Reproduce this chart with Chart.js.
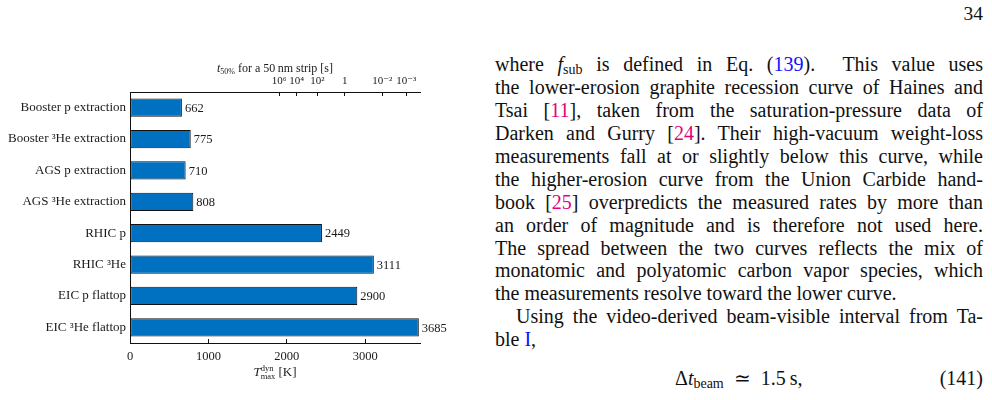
<!DOCTYPE html>
<html>
<head>
<meta charset="utf-8">
<script src="https://cdn.jsdelivr.net/npm/chart.js@4.4.0/dist/chart.umd.min.js"></script>
<style>
  html, body { margin: 0; padding: 0; background: #fff; }
  body { width: 992px; height: 400px; position: relative; overflow: hidden; font-family: "Liberation Serif", serif; color: #111; }
  #chartBox { position: absolute; left: 0; top: 0; width: 460px; height: 400px; }
  .page { position: absolute; right: 9px; top: 3px; font-size: 19.5px; }
  .col { position: absolute; left: 495px; top: 53px; width: 488px; font-size: 20px; line-height: 22.95px; }
  .ln { text-align: justify; text-align-last: justify; height: 22.95px; }
  .ln.last { text-align-last: left; }
  .ln.ind { padding-left: 21px; }
  .b { color: #1010ff; }
  .m { color: #e4007c; }
  sub { font-size: 70%; vertical-align: -3px; line-height: 0; }
  .eq { position: absolute; top: 367px; font-size: 20px; line-height: 23px; }
</style>
</head>
<body>
<div id="chartBox"><canvas id="myChart"></canvas></div>

<div class="page">34</div>
<div class="col">
  <div class="ln">where <i>f</i><sub>sub</sub> is defined in Eq. (<span class="b">139</span>). &nbsp;This value uses</div>
  <div class="ln">the lower-erosion graphite recession curve of Haines and</div>
  <div class="ln">Tsai [<span class="m">11</span>], taken from the saturation-pressure data of</div>
  <div class="ln">Darken and Gurry [<span class="m">24</span>]. Their high-vacuum weight-loss</div>
  <div class="ln">measurements fall at or slightly below this curve, while</div>
  <div class="ln">the higher-erosion curve from the Union Carbide hand-</div>
  <div class="ln">book [<span class="m">25</span>] overpredicts the measured rates by more than</div>
  <div class="ln">an order of magnitude and is therefore not used here.</div>
  <div class="ln">The spread between the two curves reflects the mix of</div>
  <div class="ln">monatomic and polyatomic carbon vapor species, which</div>
  <div class="ln last">the measurements resolve toward the lower curve.</div>
  <div class="ln ind">Using the video-derived beam-visible interval from Ta-</div>
  <div class="ln last">ble <span class="b">I</span>,</div>
</div>
<div class="eq" style="left:675px">Δ<i>t</i><sub>beam</sub>&#8197;&#8197;≃&#8197;&#8197;1.5&#8201;s,</div>
<div class="eq" style="right:9px">(141)</div>

<script>
// bar chart data
const labels = [
    'Booster p extraction',
    'Booster \u00B3He extraction',
    'AGS p extraction',
    'AGS \u00B3He extraction',
    'RHIC p',
    'RHIC \u00B3He',
    'EIC p flattop',
    'EIC \u00B3He flattop'
];
const tMax = [662, 775, 710, 808, 2449, 3111, 2900, 3685];

// bottom axis ticks [K]
const bottomTicks = [0, 1000, 2000, 3000];

// top axis: temperature where t50% hits each time value
const topTickTemps = [1902, 2125, 2391, 2739, 3219, 3525];
const topTickLabels = ['10\u2076', '10\u2074', '10\u00B2', '1', '10\u207B\u00B2', '10\u207B\u00B3'];

const serif = '"Liberation Serif", "DejaVu Serif", serif';
const textColor = '#1a1a1a';

function drawRich(ctx, parts, cx, cy) {
    let w = 0;
    parts.forEach(p => { ctx.font = p.font; if (!p.stack) w += ctx.measureText(p.t).width; });
    let x = cx - w / 2;
    ctx.textBaseline = 'alphabetic';
    ctx.textAlign = 'left';
    parts.forEach(p => {
        ctx.font = p.font;
        ctx.fillText(p.t, x, cy + (p.dy || 0));
        if (!p.stack) x += ctx.measureText(p.t).width;
    });
}

const extras = {
    id: 'extras',
    afterDatasetsDraw(chart) {
        const ctx = chart.ctx;
        ctx.save();
        ctx.fillStyle = textColor;
        ctx.font = '12.5px ' + serif;
        ctx.textAlign = 'left';
        ctx.textBaseline = 'middle';
        chart.getDatasetMeta(0).data.forEach((bar, i) => {
            ctx.fillText(String(tMax[i]), bar.x + 3, bar.y + 1);
        });
        ctx.restore();
    },
    afterDraw(chart) {
        const ctx = chart.ctx;
        const a = chart.chartArea;
        const cx = (a.left + a.right) / 2;
        ctx.save();
        ctx.fillStyle = textColor;
        // top title: t_50% for a 50 nm strip [s]
        drawRich(ctx, [
            { t: 't', font: 'italic 12px ' + serif },
            { t: '50%', font: '8px ' + serif, dy: 2 },
            { t: ' for a 50\u2009nm strip [s]', font: '12px ' + serif }
        ], cx, a.top - 20);
        // bottom title: T_max^dyn [K]
        drawRich(ctx, [
            { t: 'T', font: 'italic 13px ' + serif },
            { t: 'dyn', font: '8.5px ' + serif, dy: -5, stack: true },
            { t: 'max', font: '8.5px ' + serif, dy: 3 },
            { t: ' [K]', font: '13px ' + serif }
        ], cx, a.bottom + 33);
        ctx.restore();
    }
};

const ctx = document.getElementById('myChart');

var chart = new Chart(ctx, {
    type: 'bar',
    data: {
        labels: labels,
        datasets: [{
            data: tMax,
            backgroundColor: '#0070C0',
            borderColor: '#111',
            borderWidth: 1,
            borderSkipped: false,
            barPercentage: 0.58,
            categoryPercentage: 1.0
        }]
    },
    options: {
        indexAxis: 'y',
        responsive: true,
        maintainAspectRatio: false,
        animation: false,
        layout: { padding: { left: 0, right: 40, top: 0, bottom: 0 } },
        plugins: {
            legend: { display: false },
            tooltip: { enabled: false }
        },
        scales: {
            y: {
                type: 'category',
                offset: true,
                grid: { display: false, drawTicks: false },
                border: { display: true, color: '#111', width: 1 },
                ticks: { color: textColor, font: { family: serif, size: 13 }, padding: 4 },
                afterFit(s) { s.width = 130; }
            },
            x: {
                type: 'linear',
                position: 'bottom',
                min: 0,
                max: 3700,
                grid: { drawOnChartArea: false, drawTicks: true, tickLength: -4, color: '#111' },
                border: { display: true, color: '#111', width: 1 },
                ticks: {
                    includeBounds: false,
                    color: textColor,
                    font: { family: serif, size: 12.5 },
                    padding: 10,
                    maxRotation: 0,
                    callback: (v) => String(v)
                },
                afterBuildTicks(s) { s.ticks = bottomTicks.map(v => ({ value: v })); },
                afterFit(s) { s.height = 57; }
            },
            x2: {
                type: 'linear',
                axis: 'x',
                position: 'top',
                min: 0,
                max: 3700,
                grid: { drawOnChartArea: false, drawTicks: true, tickLength: -4, color: '#111' },
                border: { display: true, color: '#111', width: 1 },
                ticks: {
                    autoSkip: false,
                    maxRotation: 0,
                    color: textColor,
                    font: { family: serif, size: 11 },
                    padding: 8,
                    callback: (v, i) => topTickLabels[i]
                },
                afterBuildTicks(s) { s.ticks = topTickTemps.map(v => ({ value: v })); },
                afterFit(s) { s.height = 92; }
            }
        }
    },
    plugins: [extras]
});
</script>
</body>
</html>
